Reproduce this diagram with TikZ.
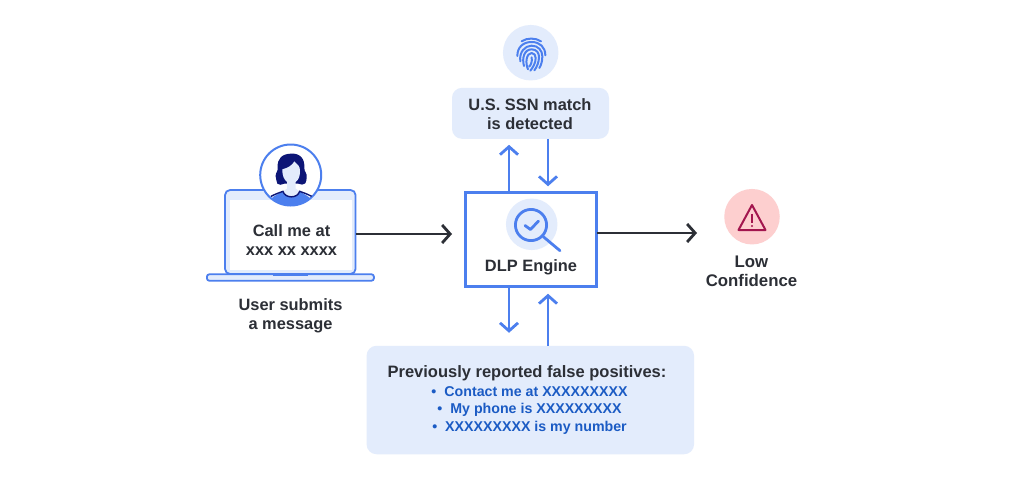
\documentclass[tikz,border=0pt]{standalone}
\usepackage{fontspec}
\setmainfont{Liberation Sans}
\usetikzlibrary{arrows.meta,calc}
\definecolor{ablue}{HTML}{4C7FEE}
\definecolor{pale}{HTML}{E3ECFC}
\definecolor{ink}{HTML}{2C2F36}
\definecolor{listblue}{HTML}{1B5BC4}
\definecolor{navy}{HTML}{0C1576}
\definecolor{pink}{HTML}{FDCFCF}
\definecolor{wine}{HTML}{A3164E}
\tikzset{
  label/.style={inner sep=0pt,outer sep=0pt,align=center,text=ink,font=\fontsize{16.4}{19}\selectfont\bfseries},
  softbox/.style={fill=pale,rounded corners=10pt,inner sep=0pt,outer sep=0pt},
  disc/.style={circle,fill=pale,inner sep=0pt,outer sep=0pt},
  blueflow/.style={draw=ablue,line width=2.8pt,-{Straight Barb[length=8pt,width=18pt,line width=2.8pt]}},
  darkflow/.style={draw=ink,line width=2.8pt,-{Straight Barb[length=8pt,width=18pt,line width=2.8pt]}},
  iconline/.style={draw=ablue,line width=2.2pt,line cap=round,line join=round},
}
\begin{document}
\begin{tikzpicture}[x=1pt,y=-1pt]
\useasboundingbox (0,0) rectangle (1024,485);
\fill[white] (0,0) rectangle (1024,485);
% laptop
\node[draw=ablue,line width=1.8pt,fill=pale,rounded corners=5pt,inner sep=0pt,outer sep=0pt,minimum width=130.5pt,minimum height=84pt] (laptop) at (290.3,232) {};
\node[fill=white,inner sep=0pt,outer sep=0pt,minimum width=122pt,minimum height=70pt] (screen) at (290.6,235) {};
\node[draw=ablue,line width=1.8pt,fill=pale,rounded corners=2.5pt,inner sep=0pt,outer sep=0pt,minimum width=167pt,minimum height=6.5pt] (base) at (290.4,277.5) {};
\fill[ablue] (273,274) rectangle (308,276.4);
\node[circle,draw=ablue,line width=2pt,fill=white,minimum size=61pt,inner sep=0pt,outer sep=0pt] (avatar) at (290.7,175) {};
\begin{scope}[shift={(255pt,-142pt)},x=0.33333pt,y=-0.33333pt]
\begin{scope}
\clip (107,99) circle (90);
\fill[ablue] (35,190) .. controls (45,165) and (65,158) .. (85,148) -- (133,148) .. controls (150,158) and (170,165) .. (180,190) -- (180,210) -- (35,210) -- cycle;
\fill[navy] (108,35) .. controls (135,33) and (150,50) .. (148,78)
 .. controls (147,90) and (158,95) .. (155,105)
 .. controls (153,113) and (156,118) .. (151,124)
 .. controls (145,130) and (138,128) .. (130,125)
 -- (88,125) .. controls (80,128) and (72,131) .. (67,125)
 .. controls (62,118) and (66,112) .. (62,103)
 .. controls (60,94) and (70,88) .. (68,76)
 .. controls (66,50) and (82,35) .. (108,35) -- cycle;
\fill[pale] (82,82) .. controls (98,78) and (112,70) .. (118,58)
 .. controls (126,66) and (136,72) .. (135,88)
 .. controls (135,104) and (130,114) .. (122,120) -- (122,140)
 -- (134,148) .. controls (128,170) and (90,170) .. (84,148)
 -- (96,140) -- (96,120) .. controls (88,114) and (81,100) .. (82,82) -- cycle;
\draw[navy,line width=1.4pt] (48,163) .. controls (62,156) and (72,152) .. (84,148) .. controls (90,170) and (128,170) .. (134,148) .. controls (146,152) and (156,156) .. (170,163);
\end{scope}
\end{scope}
\node[label] (msg) at (291.5,240.5) {Call me at\\xxx xx xxxx};
\node[label] (user) at (290.5,316) {User submits\\a message};
% engine
\node[draw=ablue,line width=2.6pt,fill=white,inner sep=0pt,outer sep=0pt,minimum width=131.5pt,minimum height=94.5pt] (engine) at (531,239.5) {};
\node[disc,minimum size=51.5pt] (lens) at (531.7,224.3) {};
\draw[iconline,line width=2.8pt] (531,225) circle (15.6);
\draw[iconline,line width=2.8pt] (543.3,236.7) -- (560,250.7);
\draw[iconline,line width=2.8pt] (525,225.5) -- (530.5,229.5) -- (538.5,221);
\node[label] (dlp) at (531,267) {DLP Engine};
% top
\node[disc,minimum size=55.5pt] (fp) at (530.7,52.7) {};
\begin{scope}[shift={(505pt,-28pt)},x=0.33333pt,y=-0.33333pt]
\begin{scope}[iconline,line width=2pt]
\draw (50,40) .. controls (65,29) and (92,29) .. (108,40);
\draw (37,84) .. controls (37,57) and (55,42) .. (80,42) .. controls (105,42) and (121,58) .. (121,82);
\draw (46,100) .. controls (42,72) and (60,53) .. (80,53) .. controls (100,53) and (112,68) .. (112,85) .. controls (112,100) and (108,112) .. (103,120);
\draw (57,114) .. controls (50,90) and (58,64) .. (80,64) .. controls (95,64) and (102,75) .. (102,87) .. controls (102,103) and (95,118) .. (88,127);
\draw (69,124) .. controls (60,105) and (64,75) .. (80,75) .. controls (88,75) and (92,82) .. (92,90) .. controls (92,105) and (84,118) .. (76,128);
\draw (80,88) .. controls (82,100) and (78,112) .. (72,116);
\end{scope}
\end{scope}
\node[softbox,minimum width=157pt,minimum height=51pt] (ssn) at (530.5,113.3) {};
\node[label] (ssnt) at (530,114.5) {U.S. SSN match\\is detected};
% warning
\node[circle,fill=pink,inner sep=0pt,outer sep=0pt,minimum size=55.5pt] (warn) at (752,216.7) {};
\draw[draw=wine,line width=2pt,line join=round] (752,205) -- (765.5,230) -- (738.5,230) -- cycle;
\draw[draw=wine,line width=2pt] (752,213.5) -- (752,222.5);
\fill[wine] (752,226) circle (1.1);
\node[label,font=\fontsize{16.8}{19}\selectfont\bfseries] (low) at (751.5,271) {Low\\Confidence};
% bottom
\node[softbox,minimum width=327.5pt,minimum height=108.5pt] (fp2) at (530.3,400) {};
\node[label,font=\fontsize{16.5}{19}\selectfont\bfseries] (fpt) at (527,373) {Previously reported false positives:};
\node[label,text=listblue,font=\fontsize{14.2}{17.7}\selectfont\bfseries] (list) at (529.5,410.5) {\textbullet\hspace{8pt}Contact me at XXXXXXXXX\\\textbullet\hspace{8pt}My phone is XXXXXXXXX\\\textbullet\hspace{8pt}XXXXXXXXX is my number};
% connectors
\coordinate (cl) at (509,0);
\coordinate (cr) at (548,0);
\draw[blueflow,shorten >=6pt] (engine.north -| cl) -- (ssn.south -| cl);
\draw[blueflow,shorten >=6pt] (ssn.south -| cr) -- (engine.north -| cr);
\draw[blueflow,shorten >=13pt] (engine.south -| cl) -- (fp2.north -| cl);
\draw[blueflow,shorten >=7pt] (fp2.north -| cr) -- (engine.south -| cr);
\coordinate (ain) at (452,234);
\coordinate (aout) at (697,233);
\draw[darkflow] (laptop.east |- ain) -- (ain);
\draw[darkflow] (engine.east |- aout) -- (aout);
\end{tikzpicture}
\end{document}
